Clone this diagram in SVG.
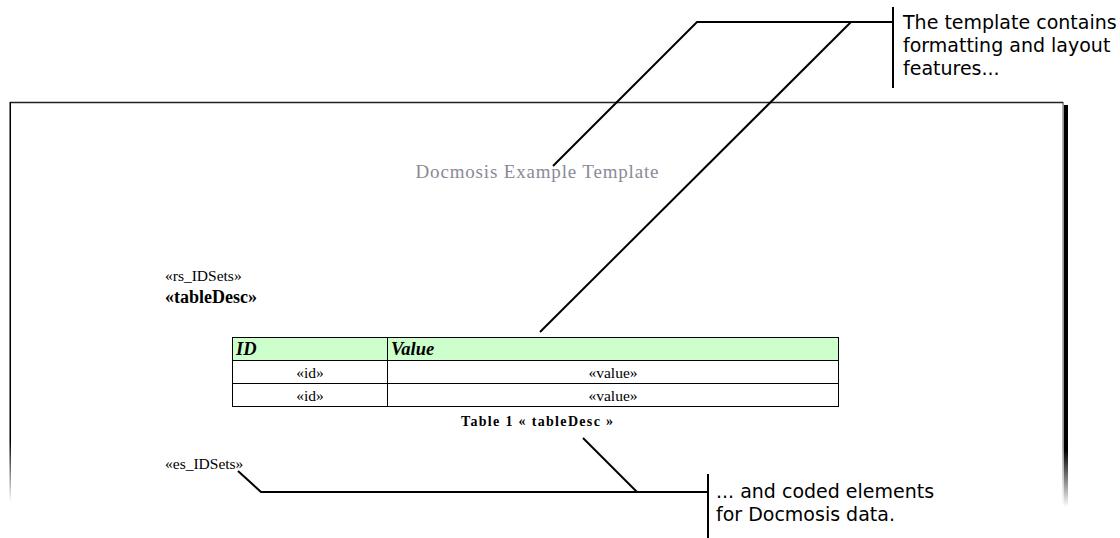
<svg xmlns="http://www.w3.org/2000/svg" width="1120" height="538" viewBox="0 0 1120 538">
<defs>
<style>
.ln{stroke:#000;stroke-width:2;fill:none}
.note{font-family:"DejaVu Sans",Verdana,sans-serif;font-size:19px;fill:#000}
.doc{font-family:"Liberation Serif","Times New Roman",serif;fill:#000}
.cell{font-family:"Liberation Serif","Times New Roman",serif;font-size:15.5px;fill:#000;text-anchor:middle}
.hdr{font-family:"Liberation Serif","Times New Roman",serif;font-size:18.5px;font-weight:bold;font-style:italic;fill:#000}
.grid{stroke:#000;stroke-width:1;fill:none}
</style>
<linearGradient id="fadeL" x1="0" y1="0" x2="0" y2="1">
<stop offset="0" stop-color="#000"/>
<stop offset="0.85" stop-color="#000"/>
<stop offset="1" stop-color="#000" stop-opacity="0"/>
</linearGradient>
<linearGradient id="fadeR" x1="0" y1="0" x2="0" y2="1">
<stop offset="0" stop-color="#000"/>
<stop offset="0.86" stop-color="#000"/>
<stop offset="1" stop-color="#000" stop-opacity="0"/>
</linearGradient>
</defs>
<rect width="1120" height="538" fill="#fff"/>

<g id="page">
<line x1="10" y1="102.5" x2="1063" y2="102.5" stroke="#222" stroke-width="1.5"/>
<rect x="9.5" y="102" width="1.5" height="400" fill="url(#fadeL)"/>
<rect x="1062.5" y="102" width="1.2" height="405" fill="url(#fadeL)" opacity="0.6"/>
<rect x="1064" y="105" width="4" height="402" fill="url(#fadeR)"/>
</g>

<g id="title">
<text x="537" y="178" font-family="Liberation Serif,'Times New Roman',serif" font-size="19" fill="#8a8a98" text-anchor="middle" textLength="243" lengthAdjust="spacing">Docmosis Example Template</text>
</g>

<g id="rs">
<text class="doc" x="165" y="281" font-size="15.5">«rs_IDSets»</text>
</g>
<g id="tableDesc">
<text class="doc" x="165" y="303" font-size="18" font-weight="bold">«tableDesc»</text>
</g>

<g id="table">
<rect x="232.5" y="337.5" width="606" height="23" fill="#ccffcc"/>
<rect class="grid" x="232.5" y="337.5" width="606" height="69"/>
<line class="grid" x1="232.5" y1="360.5" x2="838.5" y2="360.5"/>
<line class="grid" x1="232.5" y1="383.5" x2="838.5" y2="383.5"/>
<line class="grid" x1="387.5" y1="337.5" x2="387.5" y2="406.5"/>
<text class="hdr" x="236" y="355">ID</text>
<text class="hdr" x="391" y="355">Value</text>
<text class="cell" x="310" y="377.5">«id»</text>
<text class="cell" x="613" y="377.5">«value»</text>
<text class="cell" x="310" y="400.5">«id»</text>
<text class="cell" x="613" y="400.5">«value»</text>
</g>

<g id="caption">
<text class="doc" x="537" y="426" font-size="14" font-weight="bold" text-anchor="middle" textLength="152" lengthAdjust="spacing">Table 1 « tableDesc »</text>
</g>

<g id="es">
<text class="doc" x="165" y="469" font-size="15.5">«es_IDSets»</text>
</g>

<g id="note-top">
<text class="note" x="903" y="29">The template contains</text>
<text class="note" x="903" y="52">formatting and layout</text>
<text class="note" x="903" y="75">features...</text>
</g>

<g id="note-bottom">
<text class="note" x="716" y="498">... and coded elements</text>
<text class="note" x="716" y="521">for Docmosis data.</text>
</g>

<g id="connectors">
<polyline class="ln" points="553,166 697,22 893,22"/>
<line class="ln" x1="540" y1="332" x2="851" y2="22"/>
<line x1="893" y1="7" x2="893" y2="88" stroke="#000" stroke-width="2"/>
<polyline class="ln" points="238,471 261,492 708,492"/>
<line class="ln" x1="583" y1="438" x2="637" y2="492"/>
<line x1="708" y1="474" x2="708" y2="538" stroke="#000" stroke-width="2"/>
</g>
</svg>
